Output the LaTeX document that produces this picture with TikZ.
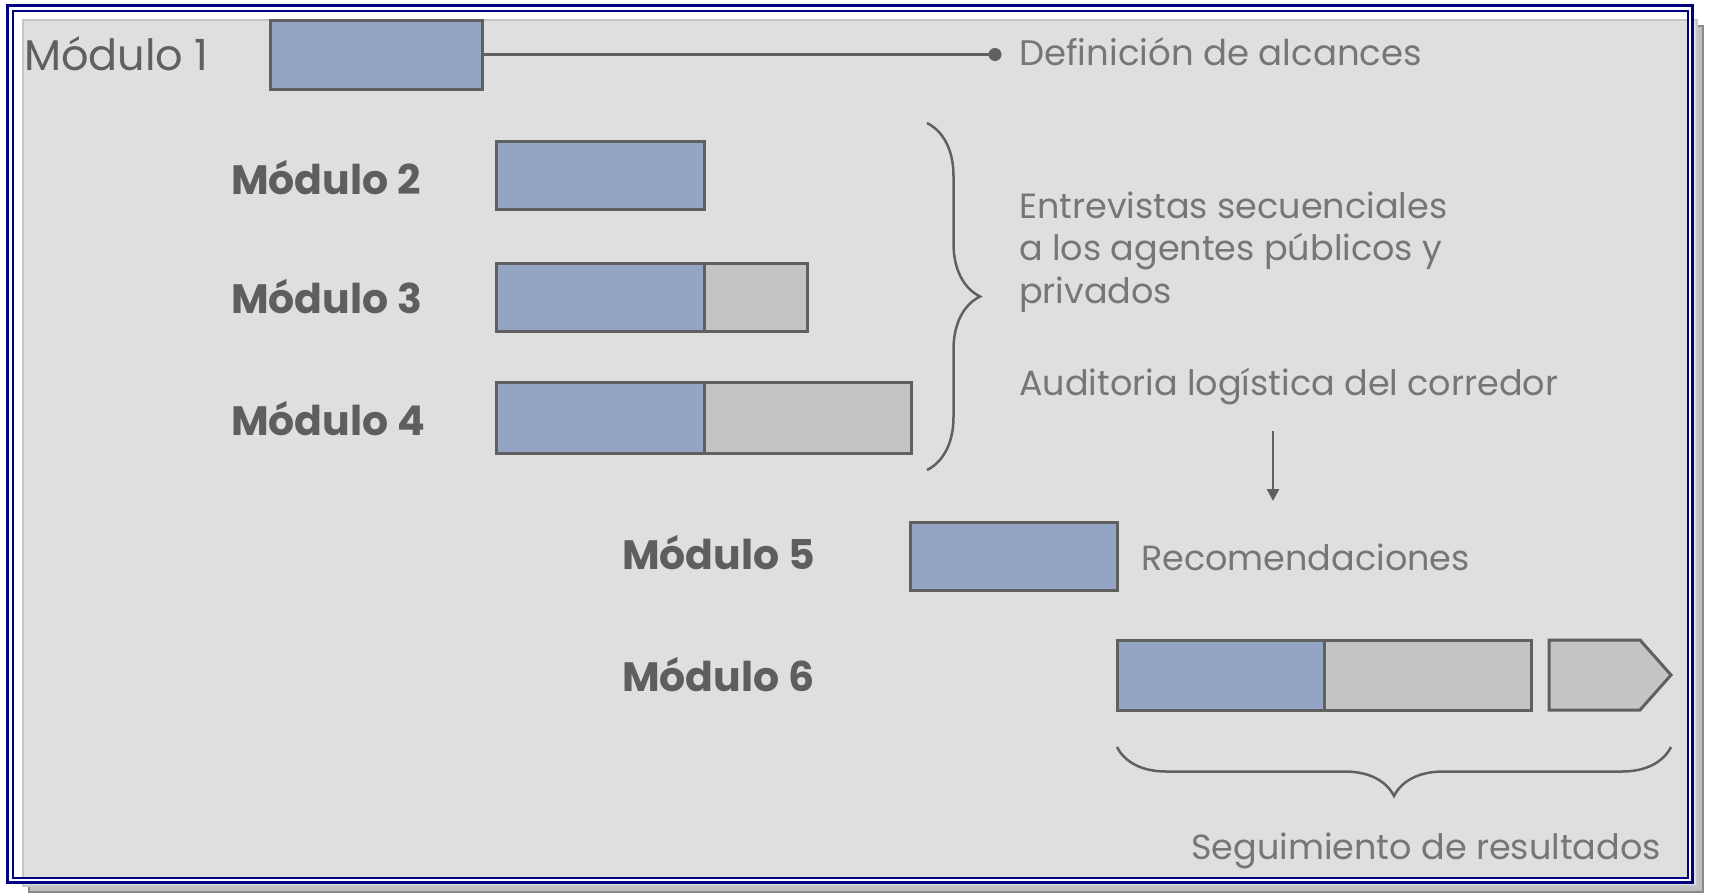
\documentclass[tikz,border=0pt]{standalone}
\usepackage{fontspec}
\setmainfont{Poppins}
\usetikzlibrary{decorations.pathreplacing,arrows.meta}
\definecolor{navy}{HTML}{000080}
\definecolor{panel}{HTML}{DFDFDF}
\definecolor{panelb}{HTML}{C6C6C6}
\definecolor{shadowc}{HTML}{BEBEBE}
\definecolor{shadowe}{HTML}{8A8A8A}
\definecolor{bluef}{HTML}{93A4C5}
\definecolor{greyf}{HTML}{C4C4C4}
\definecolor{edge}{HTML}{606060}
\definecolor{labc}{HTML}{5E5E5E}
\definecolor{lightc}{HTML}{767676}
\begin{document}
\begin{tikzpicture}[x=1pt,y=-1pt,
  bar/.style={draw=edge, line width=3pt, inner sep=0pt, outer sep=0pt, anchor=north west, minimum height=68pt},
  bluebar/.style={bar, fill=bluef},
  greybar/.style={bar, fill=greyf},
  modlabel/.style={anchor=base west, text=labc, font=\fontsize{41}{48}\selectfont\bfseries, inner sep=0pt},
  note/.style={anchor=base west, text=lightc, font=\fontsize{35}{42.5}\selectfont, inner sep=0pt, align=left},
  conn/.style={draw=edge, line width=2.5pt},
  curly/.style={draw=edge, line width=2.5pt, decorate, decoration={brace, amplitude=#1}}
]
% frame
\fill[white] (0,0) rectangle (1709,895);
\draw[fill=shadowc, draw=shadowe, line width=2pt] (29,26) rectangle (1703,892);
\draw[fill=panel, draw=panelb, line width=2pt] (23,20) rectangle (1697,886);
\draw[white, line width=6pt] (9.5,7.5) rectangle (1690,880);
\draw[navy, line width=3pt] (7,5) rectangle (1692.5,882.5);
\draw[navy, line width=2pt] (12.5,10.5) rectangle (1687.5,877.5);

% bars
\node[bluebar, minimum width=212pt, minimum height=69pt] (m1) at (270,20) {};
\node[bluebar, minimum width=208pt] (m2) at (496,141) {};
\node[bluebar, minimum width=208pt] (m3a) at (496,263) {};
\node[greybar, minimum width=103pt] (m3b) at (704,263) {};
\node[bluebar, minimum width=208pt, minimum height=71pt] (m4a) at (496,382) {};
\node[greybar, minimum width=207pt, minimum height=71pt] (m4b) at (704,382) {};
\node[bluebar, minimum width=207pt] (m5) at (910,522) {};
\node[bluebar, minimum width=207pt, minimum height=70pt] (m6a) at (1117,640) {};
\node[greybar, minimum width=207pt, minimum height=70pt] (m6b) at (1324,640) {};
\draw[draw=edge, fill=greyf, line width=3pt] (1549,640) -- (1640,640) -- (1671,675) -- (1640,710) -- (1549,710) -- cycle;

% module 1 connector
\node[circle, fill=edge, inner sep=0pt, minimum size=13pt] (dot) at (995,54.5) {};
\draw[conn] (m1.east) -- (dot.center);

% labels
\node[modlabel, text=edge, font=\fontsize{43}{48}\selectfont\mdseries] (l1) at (24,70) {Módulo 1};
\node[modlabel] (l2) at (231,194) {Módulo 2};
\node[modlabel] (l3) at (231,313) {Módulo 3};
\node[modlabel] (l4) at (231,435) {Módulo 4};
\node[modlabel] (l5) at (622,569) {Módulo 5};
\node[modlabel] (l6) at (622,691) {Módulo 6};

% notes
\node[note, font=\fontsize{35.5}{42.5}\selectfont] (t1) at (1019,65) {Definición de alcances};
\node[note] (t2) at (1019,303) {Entrevistas secuenciales\\a los agentes públicos y\\privados};
\node[note] (t3) at (1019,395) {Auditoria logística del corredor};
\node[note] (t4) at (1141,570) {Recomendaciones};
\node[note] (t5) at (1191,859) {Seguimiento de resultados};

% braces
\draw[curly=53pt] (927,123) -- (927,470);
\draw[curly=49pt] (1671,747) -- (1117,747);

% arrow
\coordinate (a1) at (1273,431);
\coordinate (a2) at (1273,501);
\draw[conn, -{Triangle[length=12pt,width=12pt]}] (a1) -- (a2);
\end{tikzpicture}
\end{document}
